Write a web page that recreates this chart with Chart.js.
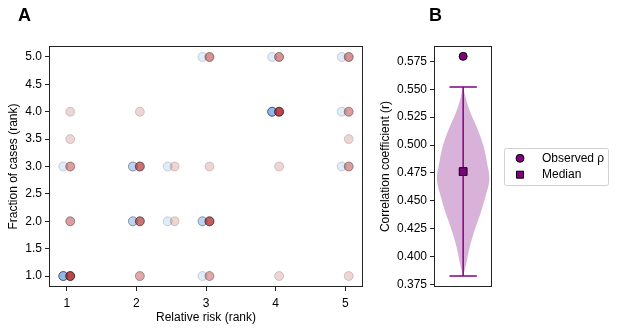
<!DOCTYPE html>
<html>
<head>
<meta charset="utf-8">
<script src="https://cdn.jsdelivr.net/npm/chart.js@4.4.0/dist/chart.umd.min.js"></script>
<style>
  body { margin: 0; background: #fff; }
  #tela { position: relative; width: 617px; height: 331px; }
  canvas { position: absolute; top: 0; }
  #graficoA { left: 0; }
  #graficoB { left: 370px; }
</style>
</head>
<body>
<div id="tela">
  <canvas id="graficoA" width="370" height="331"></canvas>
  <canvas id="graficoB" width="247" height="331"></canvas>
</div>
<script>
// Painel A - pontos azuis (rank, rank, opacidade)
const riscoAzul = [3, 4, 5, 4, 5, 1, 2, 2.5, 5, 2, 2.5, 3, 1, 3];
const casosAzul = [5, 5, 5, 4, 4, 3, 3, 3, 3, 2, 2, 2, 1, 1];
const alfaAzul  = [0.2, 0.2, 0.2, 0.75, 0.2, 0.2, 0.45, 0.2, 0.2, 0.45, 0.2, 0.45, 0.75, 0.2];

// Painel A - pontos vermelhos
const riscoVermelho = [3, 4, 5, 1, 2, 4, 5, 1, 5, 1, 2, 2.5, 3, 4, 5, 1, 2, 2.5, 3, 1, 2, 3, 4, 5];
const casosVermelho = [5, 5, 5, 4, 4, 4, 4, 3.5, 3.5, 3, 3, 3, 3, 3, 3, 2, 2, 2, 2, 1, 1, 1, 1, 1];
const alfaVermelho  = [0.5, 0.5, 0.5, 0.2, 0.2, 0.85, 0.45, 0.2, 0.2, 0.45, 0.65, 0.2, 0.2, 0.2, 0.45,
                       0.45, 0.65, 0.2, 0.75, 0.85, 0.4, 0.4, 0.2, 0.2];

const ticksRisco = [1, 2, 3, 4, 5];
const ticksCasos = [1.0, 1.5, 2.0, 2.5, 3.0, 3.5, 4.0, 4.5, 5.0];

// Painel B - violino (valor de r, meia largura)
const violinoValores = [0.3825, 0.394, 0.409, 0.424, 0.439, 0.454, 0.469, 0.484, 0.499, 0.514, 0.529, 0.542, 0.552];
const violinoLargura = [0, 0.11, 0.23, 0.40, 0.60, 0.77, 0.90, 0.82, 0.70, 0.50, 0.25, 0.09, 0];
const nuloMinimo = 0.3825;
const nuloMaximo = 0.552;
const valorMediana = 0.4762;
const valorObservado = 0.5795;
const ticksCorrelacao = [0.375, 0.400, 0.425, 0.450, 0.475, 0.500, 0.525, 0.550, 0.575];

Chart.defaults.font.family = "'Liberation Sans', Arial, sans-serif";
Chart.defaults.font.size = 12;
Chart.defaults.color = '#000';

const corAzul = '105, 160, 235';
const corVermelho = '175, 40, 40';
const roxo = '#800080';

// moldura em volta da area do grafico + letra do painel
function criarMoldura(letra, letraX) {
    return {
        id: 'moldura' + letra,
        afterDatasetsDraw(chart) {
            const { ctx, chartArea } = chart;
            const l = Math.round(chartArea.left) + 0.5;
            const t = Math.round(chartArea.top) + 0.5;
            const r = Math.round(chartArea.right) - 0.5;
            const b = Math.round(chartArea.bottom) - 0.5;
            ctx.save();
            ctx.strokeStyle = '#222';
            ctx.lineWidth = 1;
            ctx.strokeRect(l, t, r - l, b - t);
            ctx.fillStyle = '#000';
            ctx.font = "bold 18px 'Liberation Sans', Arial, sans-serif";
            ctx.textBaseline = 'middle';
            ctx.textAlign = 'left';
            ctx.fillText(letra, letraX, 16.5);
            ctx.restore();
        }
    };
}

function eixoComum(ticks, formato, distancia) {
    return {
        type: 'linear',
        afterBuildTicks: (s) => { s.ticks = ticks.map(v => ({ value: v })); },
        grid: { drawOnChartArea: false, drawTicks: true, tickLength: 4, tickColor: '#222', tickWidth: 1 },
        border: { display: false },
        ticks: { padding: distancia, color: '#000', callback: formato }
    };
}

// Painel A
const eixoXA = eixoComum(ticksRisco, v => String(v), 5);
eixoXA.min = 0.745;
eixoXA.max = 5.255;
eixoXA.afterFit = (s) => { s.height = 44; };
eixoXA.title = { display: true, text: 'Relative risk (rank)', color: '#000', padding: { top: 0, bottom: 6.5 } };

const eixoYA = eixoComum(ticksCasos, v => v.toFixed(1), 3);
eixoYA.min = 0.8;
eixoYA.max = 5.2;
eixoYA.afterFit = (s) => { s.width = 49; };
eixoYA.title = { display: true, text: 'Fraction of cases (rank)', color: '#000', padding: { top: 6.8, bottom: 0 } };

new Chart(document.getElementById('graficoA'), {
    type: 'scatter',
    data: {
        datasets: [{
            label: 'Vermelho',
            data: riscoVermelho.map((x, i) => ({ x: x + 0.05, y: casosVermelho[i] })),
            backgroundColor: alfaVermelho.map(a => `rgba(${corVermelho}, ${a})`),
            borderColor: alfaVermelho.map(a => `rgba(0, 0, 0, ${a})`),
            borderWidth: 0.8,
            pointRadius: 4.5
        }, {
            label: 'Azul',
            data: riscoAzul.map((x, i) => ({ x: x - 0.05, y: casosAzul[i] })),
            backgroundColor: alfaAzul.map(a => `rgba(${corAzul}, ${a})`),
            borderColor: alfaAzul.map(a => `rgba(0, 0, 0, ${a})`),
            borderWidth: 0.8,
            pointRadius: 4.5
        }]
    },
    options: {
        responsive: false,
        animation: false,
        devicePixelRatio: 1,
        layout: { padding: { left: 0, top: 46, right: 7, bottom: 0 } },
        plugins: { legend: { display: false }, tooltip: { enabled: false } },
        scales: { x: eixoXA, y: eixoYA }
    },
    plugins: [criarMoldura('A', 18)]
});

// Painel B - legenda desenhada ao lado
const pluginLegendaB = {
    id: 'legendaB',
    afterDraw(chart) {
        const { ctx, chartArea } = chart;
        const esq = chartArea.right + 11.7;
        const meio = (chartArea.top + chartArea.bottom) / 2;
        const larg = 104, alt = 37;
        const topo = meio - alt / 2;
        ctx.save();
        ctx.fillStyle = 'rgba(255,255,255,0.8)';
        ctx.strokeStyle = '#d0d0d0';
        ctx.lineWidth = 1;
        ctx.beginPath();
        ctx.roundRect(Math.round(esq) + 0.5, Math.round(topo) + 0.5, larg, alt, 2);
        ctx.fill();
        ctx.stroke();

        const y1 = meio - 8.2, y2 = meio + 8.2;
        ctx.fillStyle = roxo;
        ctx.strokeStyle = '#000';
        ctx.beginPath();
        ctx.arc(esq + 16, y1, 4, 0, Math.PI * 2);
        ctx.fill();
        ctx.stroke();
        ctx.beginPath();
        ctx.rect(esq + 12.5, y2 - 3.5, 7, 7);
        ctx.fill();
        ctx.stroke();

        ctx.fillStyle = '#000';
        ctx.font = "12px 'Liberation Sans', Arial, sans-serif";
        ctx.textBaseline = 'middle';
        ctx.fillText('Observed ρ', esq + 38, y1);
        ctx.fillText('Median', esq + 38, y2);
        ctx.restore();
    }
};

// contorno do violino: sobe pelo lado direito e desce pelo esquerdo
const contornoViolino = violinoValores.map((v, i) => ({ x: violinoLargura[i], y: v }))
    .concat(violinoValores.slice().reverse().map((v, i) => ({ x: -violinoLargura[violinoLargura.length - 1 - i], y: v })));

const eixoYB = eixoComum(ticksCorrelacao, v => v.toFixed(3), 3);
eixoYB.min = 0.3727;
eixoYB.max = 0.5888;
eixoYB.afterFit = (s) => { s.width = 64; };
eixoYB.title = { display: true, text: 'Correlation coefficient (r)', color: '#000', padding: { top: 8.8, bottom: 0 } };

new Chart(document.getElementById('graficoB'), {
    type: 'scatter',
    data: {
        datasets: [{
            label: 'Observed ρ',
            data: [{ x: 0, y: valorObservado }],
            backgroundColor: roxo,
            borderColor: '#000',
            borderWidth: 1,
            pointRadius: 4,
            order: 0
        }, {
            label: 'Median',
            data: [{ x: 0, y: valorMediana }],
            pointStyle: 'rect',
            backgroundColor: roxo,
            borderColor: '#000',
            borderWidth: 1,
            pointRadius: 5.5,
            order: 1
        }, {
            label: 'barra',
            data: [{ x: 0, y: nuloMinimo }, { x: 0, y: nuloMaximo }],
            showLine: true,
            borderColor: roxo,
            borderWidth: 1.5,
            pointRadius: 0,
            order: 2
        }, {
            label: 'tampa inferior',
            data: [{ x: -0.47, y: nuloMinimo }, { x: 0.47, y: nuloMinimo }],
            showLine: true,
            borderColor: roxo,
            borderWidth: 1.5,
            pointRadius: 0,
            order: 2
        }, {
            label: 'tampa superior',
            data: [{ x: -0.47, y: nuloMaximo }, { x: 0.47, y: nuloMaximo }],
            showLine: true,
            borderColor: roxo,
            borderWidth: 1.5,
            pointRadius: 0,
            order: 2
        }, {
            label: 'violino',
            data: contornoViolino,
            showLine: true,
            fill: 'shape',
            tension: 0.35,
            backgroundColor: 'rgba(128, 0, 128, 0.3)',
            borderWidth: 0,
            borderColor: 'rgba(0,0,0,0)',
            pointRadius: 0,
            order: 3
        }]
    },
    options: {
        responsive: false,
        animation: false,
        devicePixelRatio: 1,
        layout: { padding: { left: 0, top: 46, right: 124.7, bottom: 44 } },
        plugins: { legend: { display: false }, tooltip: { enabled: false } },
        scales: {
            x: { type: 'linear', min: -1, max: 1, display: false },
            y: eixoYB
        }
    },
    plugins: [criarMoldura('B', 59), pluginLegendaB]
});
</script>
</body>
</html>
